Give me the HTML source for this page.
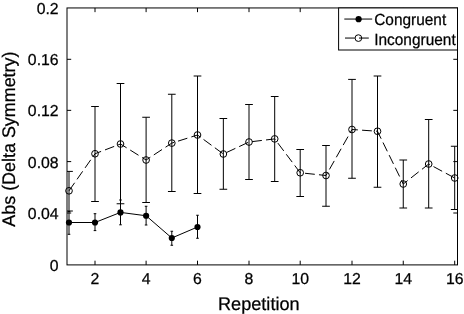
<!DOCTYPE html>
<html><head><meta charset="utf-8"><title>plot</title>
<style>
html,body{margin:0;padding:0;background:#fff;}
body{width:464px;height:314px;overflow:hidden;}
svg{display:block;will-change:transform;}
text{font-family:"Liberation Sans",sans-serif;fill:#000;stroke:#000;stroke-width:0.25px;text-rendering:geometricPrecision;}
</style></head><body>
<svg width="464" height="314" viewBox="0 0 464 314">
<rect x="0" y="0" width="464" height="314" fill="#fff"/>
<defs><clipPath id="ax"><rect x="67.00" y="7.95" width="390.50" height="256.95"/></clipPath></defs>

<g stroke="#000" stroke-width="1.00" fill="none">
<rect x="67.00" y="7.95" width="390.50" height="256.95"/>
<path d="M95.00 264.90V260.70M95.00 7.95V12.15"/>
<path d="M146.10 264.90V260.70M146.10 7.95V12.15"/>
<path d="M197.50 264.90V260.70M197.50 7.95V12.15"/>
<path d="M249.00 264.90V260.70M249.00 7.95V12.15"/>
<path d="M300.20 264.90V260.70M300.20 7.95V12.15"/>
<path d="M352.00 264.90V260.70M352.00 7.95V12.15"/>
<path d="M403.25 264.90V260.70M403.25 7.95V12.15"/>
<path d="M454.70 264.90V260.70M454.70 7.95V12.15"/>
<path d="M67.00 213.00H71.20M457.50 213.00H453.30"/>
<path d="M67.00 161.60H71.20M457.50 161.60H453.30"/>
<path d="M67.00 110.35H71.20M457.50 110.35H453.30"/>
<path d="M67.00 59.30H71.20M457.50 59.30H453.30"/>
</g>
<g clip-path="url(#ax)" stroke="#000" stroke-width="1.00" fill="none">
<path d="M69.00 171.40V211.00M65.15 171.40H72.85M65.15 211.00H72.85M95.00 106.50V201.50M91.15 106.50H98.85M91.15 201.50H98.85M120.50 83.50V203.75M116.65 83.50H124.35M116.65 203.75H124.35M146.10 117.25V202.50M142.25 117.25H149.95M142.25 202.50H149.95M171.80 94.25V191.50M167.95 94.25H175.65M167.95 191.50H175.65M197.50 76.00V193.50M193.65 76.00H201.35M193.65 193.50H201.35M223.35 118.50V189.25M219.50 118.50H227.20M219.50 189.25H227.20M249.00 104.50V179.50M245.15 104.50H252.85M245.15 179.50H252.85M274.70 96.50V181.50M270.85 96.50H278.55M270.85 181.50H278.55M300.20 149.50V196.50M296.35 149.50H304.05M296.35 196.50H304.05M326.00 145.50V206.25M322.15 145.50H329.85M322.15 206.25H329.85M352.00 79.40V178.25M348.15 79.40H355.85M348.15 178.25H355.85M377.50 76.00V187.25M373.65 76.00H381.35M373.65 187.25H381.35M403.25 160.00V208.00M399.40 160.00H407.10M399.40 208.00H407.10M428.70 119.50V208.00M424.85 119.50H432.55M424.85 208.00H432.55M454.70 146.25V209.50M450.85 146.25H458.55M450.85 209.50H458.55"/>
<path d="M69.00 211.50V234.30M67.70 211.50H70.30M67.70 234.30H70.30M95.00 213.70V230.60M93.70 213.70H96.30M93.70 230.60H96.30M120.50 200.00V224.80M119.20 200.00H121.80M119.20 224.80H121.80M146.10 206.25V225.00M144.80 206.25H147.40M144.80 225.00H147.40M171.80 231.25V245.25M170.50 231.25H173.10M170.50 245.25H173.10M197.50 215.25V238.25M196.20 215.25H198.80M196.20 238.25H198.80"/>
<polyline points="69.00,190.80 95.00,153.75 120.50,144.00 146.10,160.00 171.80,143.10 197.50,135.00 223.35,154.00 249.00,142.00 274.70,138.90 300.20,172.75 326.00,175.50 352.00,129.50 377.50,131.25 403.25,184.00 428.70,164.00 454.70,178.00" stroke-dasharray="9.8 4.2"/>
<polyline points="69.00,222.50 95.00,222.50 120.50,212.40 146.10,215.75 171.80,238.00 197.50,227.00"/>
</g>
<g stroke="#000" stroke-width="1.00" fill="none">
<circle cx="69.00" cy="190.80" r="3.35"/>
<circle cx="95.00" cy="153.75" r="3.35"/>
<circle cx="120.50" cy="144.00" r="3.35"/>
<circle cx="146.10" cy="160.00" r="3.35"/>
<circle cx="171.80" cy="143.10" r="3.35"/>
<circle cx="197.50" cy="135.00" r="3.35"/>
<circle cx="223.35" cy="154.00" r="3.35"/>
<circle cx="249.00" cy="142.00" r="3.35"/>
<circle cx="274.70" cy="138.90" r="3.35"/>
<circle cx="300.20" cy="172.75" r="3.35"/>
<circle cx="326.00" cy="175.50" r="3.35"/>
<circle cx="352.00" cy="129.50" r="3.35"/>
<circle cx="377.50" cy="131.25" r="3.35"/>
<circle cx="403.25" cy="184.00" r="3.35"/>
<circle cx="428.70" cy="164.00" r="3.35"/>
<circle cx="454.70" cy="178.00" r="3.35"/>
</g>
<g fill="#000" stroke="none">
<circle cx="69.00" cy="222.50" r="3.1"/>
<circle cx="95.00" cy="222.50" r="3.1"/>
<circle cx="120.50" cy="212.40" r="3.1"/>
<circle cx="146.10" cy="215.75" r="3.1"/>
<circle cx="171.80" cy="238.00" r="3.1"/>
<circle cx="197.50" cy="227.00" r="3.1"/>
</g>
<rect x="338.6" y="7.95" width="118.9" height="42.05" fill="#fff" stroke="#000" stroke-width="1.00"/>
<g stroke="#000" stroke-width="1.00" fill="none">
<path d="M344.3 19.05H372.2"/>
<path d="M345 38.05H372.2" stroke-dasharray="9.8 4.2"/>
<circle cx="358.4" cy="38.1" r="3.35"/>
</g>
<circle cx="358.6" cy="19.2" r="3.1" fill="#000"/>
<text x="374.2" y="25.0" font-size="16.2" textLength="72" lengthAdjust="spacingAndGlyphs">Congruent</text>
<text x="374.2" y="45.3" font-size="16.2" textLength="81.5" lengthAdjust="spacingAndGlyphs">Incongruent</text>
<text x="95.00" y="284" font-size="15.8" text-anchor="middle">2</text>
<text x="146.10" y="284" font-size="15.8" text-anchor="middle">4</text>
<text x="197.50" y="284" font-size="15.8" text-anchor="middle">6</text>
<text x="249.00" y="284" font-size="15.8" text-anchor="middle">8</text>
<text x="300.20" y="284" font-size="15.8" text-anchor="middle">10</text>
<text x="352.00" y="284" font-size="15.8" text-anchor="middle">12</text>
<text x="403.25" y="284" font-size="15.8" text-anchor="middle">14</text>
<text x="454.70" y="284" font-size="15.8" text-anchor="middle">16</text>
<text x="58.6" y="271.00" font-size="15.8" text-anchor="end">0</text>
<text x="58.6" y="219.10" font-size="15.8" text-anchor="end">0.04</text>
<text x="58.6" y="167.70" font-size="15.8" text-anchor="end">0.08</text>
<text x="58.6" y="116.45" font-size="15.8" text-anchor="end">0.12</text>
<text x="58.6" y="65.40" font-size="15.8" text-anchor="end">0.16</text>
<text x="58.6" y="14.05" font-size="15.8" text-anchor="end">0.2</text>
<text x="218" y="310.0" font-size="18.2" textLength="81.6" lengthAdjust="spacingAndGlyphs">Repetition</text>
<text transform="translate(15.35 226.7) rotate(-90)" x="0" y="0" font-size="18.2" textLength="175.2" lengthAdjust="spacingAndGlyphs">Abs (Delta Symmetry)</text>
</svg></body></html>
